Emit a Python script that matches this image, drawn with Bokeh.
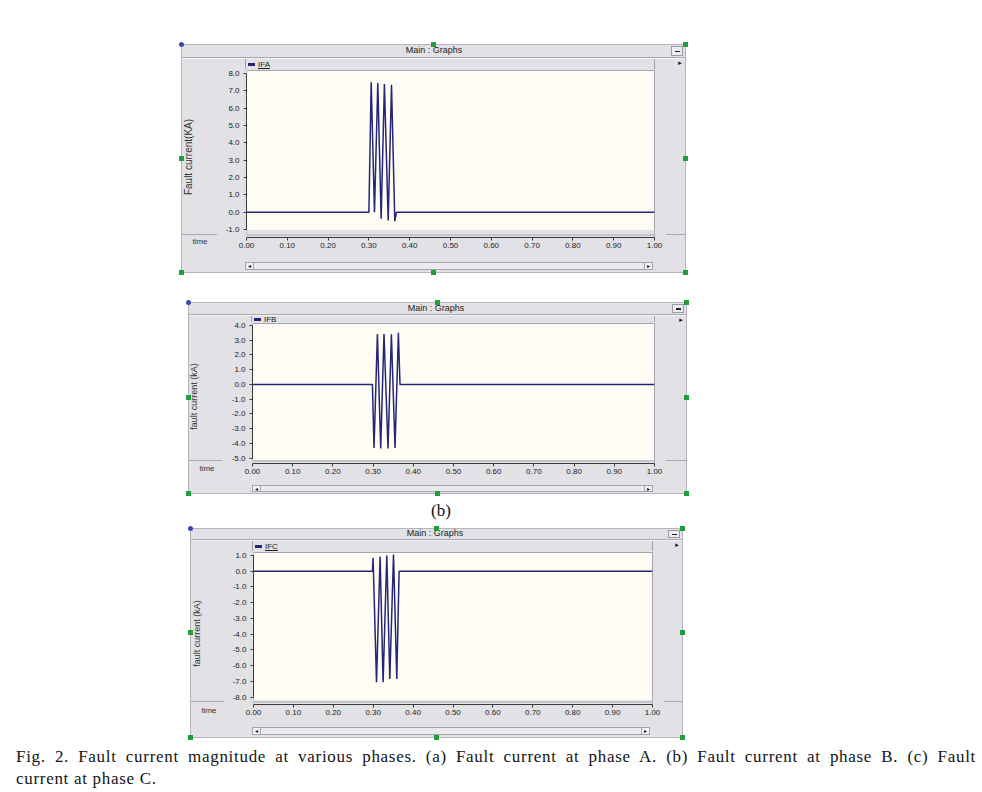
import math
from bokeh.plotting import figure
from bokeh.models import (Range1d, FixedTicker, NumeralTickFormatter, BoxAnnotation,
                          Spacer, Div)
from bokeh.layouts import column, row
from bokeh.embed import file_html
from bokeh.resources import INLINE

# ---------------- data ----------------
time_ticks = [0.0, 0.1, 0.2, 0.3, 0.4, 0.5, 0.6, 0.7, 0.8, 0.9, 1.0]
ya_ticks = [-1.0, 0.0, 1.0, 2.0, 3.0, 4.0, 5.0, 6.0, 7.0, 8.0]
yb_ticks = [-5.0, -4.0, -3.0, -2.0, -1.0, 0.0, 1.0, 2.0, 3.0, 4.0]
yc_ticks = [-8.0, -7.0, -6.0, -5.0, -4.0, -3.0, -2.0, -1.0, 0.0, 1.0]

# phase A fault current (kA)
t_a = [0.0, 0.300, 0.3056, 0.3137, 0.3218, 0.3300, 0.3380, 0.3473, 0.3554, 0.3635, 0.3676, 1.0]
i_a = [0.0, 0.0, 7.50, 0.00, 7.45, -0.38, 7.40, -0.48, 7.35, -0.52, 0.0, 0.0]
# phase B fault current (kA)
t_b = [0.0, 0.2983, 0.3023, 0.3107, 0.3189, 0.3271, 0.3371, 0.3455, 0.3545, 0.3629, 0.3669, 1.0]
i_b = [0.0, 0.0, -4.30, 3.43, -4.34, 3.43, -4.34, 3.40, -4.30, 3.50, 0.0, 0.0]
# phase C fault current (kA)
t_c = [0.0, 0.2982, 0.2997, 0.3083, 0.3173, 0.3248, 0.3341, 0.3416, 0.3509, 0.3591, 0.3649, 1.0]
i_c = [0.0, 0.0, 0.85, -7.05, 0.93, -7.05, 1.00, -6.84, 1.06, -6.84, 0.0, 0.0]

caption_line1 = ("Fig. 2. Fault current magnitude at various phases. (a) Fault current at phase A. "
                 "(b) Fault current at phase B. (c) Fault")
caption_line2 = "current at phase C."

# ---------------- styles ----------------
PANEL_GRAY = "#e1e1e6"
CREAM = "#fffdf3"
NAVY = "#25257a"
EDGE = "#a6a6ae"
PANEL_EDGE = "#b4b4bc"
SEP = "#a9a9b1"
TEXT = "#2a2a2a"
FONT = "Liberation Sans"
FONT_CSS = "'Liberation Sans', Arial, sans-serif"
SYM_CSS = "'DejaVu Sans', sans-serif"
GREEN = "#1f9e3c"
BLUE = "#3848b0"


def hrect(x, y, w, h, bg, extra=""):
    return (f'<div style="position:absolute;left:{x}px;top:{y}px;width:{w}px;height:{h}px;'
            f'background:{bg};box-sizing:border-box;{extra}"></div>')


def htext(cx, cy, s, size, W, color=TEXT, font=FONT_CSS, align="center", rotate=False,
          extra=""):
    left = cx - W / 2 if align == "center" else cx
    hh = size + 4
    style = (f"position:absolute;left:{left}px;top:{cy - hh / 2}px;width:{W}px;height:{hh}px;"
             f"line-height:{hh}px;text-align:{align};font-family:{font};font-size:{size}px;"
             f"color:{color};white-space:nowrap;{extra}")
    if rotate:
        style += "transform:rotate(-90deg);transform-origin:50% 50%;"
    return f'<div style="{style}">{s}</div>'


def hbox(w, h, inner, bg="white"):
    html = (f'<div style="position:relative;width:{w}px;height:{h}px;overflow:hidden;'
            f'background:{bg};">{inner}</div>')
    return Div(text=html, width=w, height=h, margin=(0, 0, 0, 0),
               styles={"background-color": bg})


def handle(X, Y, ox, oy, color=GREEN, round_=False):
    r = "border-radius:50%;" if round_ else ""
    return hrect(X - ox - 2.5, Y - oy - 2.5, 5, 5, color, r)


def make_panel(spec):
    PX0, PY0, PX1, PY1 = spec["panel"]
    FX0, FY0, FX1, FY1 = spec["frame"]
    OX0, OY0, OX1, OY1 = PX0 - 4, PY0 - 4, PX1 + 4, PY1 + 4
    XS = spec["xsplit"]
    RS = FX1 + 12
    FT = FY0 - 1
    FB = spec["fig_bottom"]
    dv = spec["divider"]
    mx, my = (PX0 + PX1) / 2, (PY0 + PY1) / 2

    # ---- top strip: title bar + legend bar ----
    ox, oy = OX0, OY0
    h = []
    h.append(hrect(PX0 - ox, PY0 - oy, PX1 - PX0 + 1, FT - PY0 + 2, PANEL_GRAY,
                   f"border:1px solid {PANEL_EDGE};border-bottom:none;"))
    h.append(hrect(PX0 + 1 - ox, dv - oy, PX1 - PX0 - 1, 1, SEP))
    h.append(hrect(PX0 + 1 - ox, dv + 1 - oy, PX1 - PX0 - 1, 1, "#f4f4f6"))
    h.append(htext(spec["title_cx"] - ox, (PY0 + dv) / 2 - oy, "Main : Graphs", 9, 90,
                   color="#222"))
    h.append(hrect(PX1 - 14 - ox, PY0 + 2 - oy, 12, dv - PY0 - 3, "#ececf0",
                   "border:1px solid #9a9aa2;"))
    h.append(hrect(PX1 - 10 - ox, (PY0 + dv) / 2 - oy, 5, 1.5, "#222"))
    h.append(htext(PX1 - 5 - ox, dv + 6 - oy, "\u25b8", 7, 8, color="#111", font=SYM_CSS))
    h.append(hrect(FX0 - 1 - ox, dv + 2 - oy, FX1 - FX0 + 2, FT - dv, PANEL_GRAY,
                   "border-left:1px solid #a0a0a8;border-right:1px solid #a0a0a8;"))
    lm = (dv + 2 + FY0) / 2
    h.append(hrect(FX0 + 2 - ox, lm - 1.5 - oy, 7, 3, NAVY))
    h.append(htext(FX0 + 12 - ox, lm - oy, spec["legend"], 8, 30, color="#222", align="left",
                   extra="text-decoration:underline;"))
    h.append(handle(mx, PY0, ox, oy))
    h.append(handle(PX1, PY0, ox, oy))
    h.append(handle(PX0, PY0, ox, oy, BLUE, True))
    top = hbox(OX1 - OX0, FT - OY0, "".join(h))

    # ---- left strip: y label, "time" ----
    ox, oy = OX0, FT
    h = []
    h.append(hrect(0, 0, PX0 - ox, FB - FT, "white"))
    h.append(hrect(PX0 - ox, 0, 1, FB - FT, PANEL_EDGE))
    h.append(hrect(PX0 + 1 - ox, FY1 - 3 - oy, XS - PX0, 1, SEP))
    lx, ly = spec["ylabel_pos"]
    h.append(htext(lx - ox, ly - oy, spec["ylabel"], spec["ylabel_size"], 100, color="#333",
                   rotate=True))
    tx, ty = spec["time_pos"]
    h.append(htext(tx - ox, ty - oy, "time", 8, 26, color="#333"))
    h.append(handle(PX0, my, ox, oy))
    left = hbox(XS - OX0, FB - FT, "".join(h), bg=PANEL_GRAY)

    # ---- right strip ----
    ox, oy = RS, FT
    h = []
    h.append(hrect(PX1 + 1 - ox, 0, OX1 - PX1, FB - FT, "white"))
    h.append(hrect(PX1 - ox, 0, 1, FB - FT, PANEL_EDGE))
    h.append(hrect(0, FY1 - 3 - oy, PX1 - RS, 1, SEP))
    h.append(handle(PX1, my, ox, oy))
    right = hbox(OX1 - RS, FB - FT, "".join(h), bg=PANEL_GRAY)

    # ---- bottom strip: scroll bar ----
    ox, oy = OX0, FB
    h = []
    h.append(hrect(PX0 - ox, 0, PX1 - PX0 + 1, PY1 - FB + 1, PANEL_GRAY,
                   f"border:1px solid {PANEL_EDGE};border-top:none;"))
    s0, s1, sy0, sy1 = spec["scroll"]
    h.append(hrect(s0 - ox, sy0 - oy, s1 - s0, sy1 - sy0, "#ebebef", "border:1px solid #a4a4ac;"))
    h.append(hrect(s0 - ox, sy0 - oy, 9, sy1 - sy0, "#f3f3f5", "border:1px solid #a4a4ac;"))
    h.append(hrect(s1 - 9 - ox, sy0 - oy, 9, sy1 - sy0, "#f3f3f5", "border:1px solid #a4a4ac;"))
    h.append(htext(s0 + 4.5 - ox, (sy0 + sy1) / 2 - oy, "\u25c2", 6, 8, color="#111",
                   font=SYM_CSS))
    h.append(htext(s1 - 4.5 - ox, (sy0 + sy1) / 2 - oy, "\u25b8", 6, 8, color="#111",
                   font=SYM_CSS))
    h.append(handle(PX0, PY1, ox, oy))
    h.append(handle(mx, PY1, ox, oy))
    h.append(handle(PX1, PY1, ox, oy))
    bottom = hbox(OX1 - OX0, OY1 - FB, "".join(h))

    # ---- the plot itself ----
    p = figure(width=RS - XS, height=FB - FT, output_backend="svg",
               toolbar_location=None, tools="", title=None,
               x_range=Range1d(0, 1), y_range=Range1d(spec["ylo"], spec["yhi"]),
               min_border_left=FX0 - XS, min_border_right=RS - FX1,
               min_border_top=FY0 - FT, min_border_bottom=FB - FY1,
               styles={"background-color": PANEL_GRAY})
    p.border_fill_color = PANEL_GRAY
    p.background_fill_color = CREAM
    p.outline_line_color = EDGE
    p.grid.visible = False
    p.add_layout(BoxAnnotation(top=spec["band"], fill_color=PANEL_GRAY, fill_alpha=1.0,
                               line_color=None, level="underlay"))
    p.add_layout(BoxAnnotation(bottom=2, top=3, bottom_units="screen", top_units="screen",
                               fill_color=SEP, fill_alpha=1.0, line_color=None,
                               level="underlay"))
    p.line(x=spec["t"], y=spec["i"], line_color=NAVY, line_width=1.5)

    xa = p.xaxis[0]
    xa.ticker = FixedTicker(ticks=time_ticks, minor_ticks=[])
    xa.formatter = NumeralTickFormatter(format="0.00")
    xa.bounds = (0, 1)
    ya = p.yaxis[0]
    ya.ticker = FixedTicker(ticks=spec["yticks"], minor_ticks=[])
    ya.formatter = NumeralTickFormatter(format="0.0")
    ya.bounds = (min(spec["yticks"]), max(spec["yticks"]))
    for ax in (xa, ya):
        ax.axis_line_color = "#3a3a3a"
        ax.major_tick_line_color = "#3a3a3a"
        ax.major_tick_out = 3
        ax.major_tick_in = 0
        ax.minor_tick_out = 0
        ax.minor_tick_in = 0
        ax.major_label_text_font = FONT
        ax.major_label_text_font_size = "8px"
        ax.major_label_text_color = "#222222"
        if "background_fill_color" in ax.properties():
            ax.background_fill_color = PANEL_GRAY
    xa.major_label_standoff = 2
    ya.major_label_standoff = 4

    return column(top, row(left, p, right), bottom)


spec_a = dict(panel=(181, 44, 685, 272), frame=(246, 70, 654, 237), xsplit=217, fig_bottom=256,
              ylo=-1.4615, yhi=8.173, band=-1.03, divider=57, title_cx=434,
              legend="IFA", time_pos=(200, 242),
              ylabel="Fault current(KA)", ylabel_size=10, ylabel_pos=(189, 157),
              scroll=(245, 653, 262, 270), t=t_a, i=i_a, yticks=ya_ticks)
spec_b = dict(panel=(188, 302, 686, 493), frame=(252, 323, 654, 463), xsplit=222, fig_bottom=481,
              ylo=-5.359, yhi=4.136, band=-5.12, divider=314, title_cx=436,
              legend="IFB", time_pos=(207, 469),
              ylabel="fault current (kA)", ylabel_size=9, ylabel_pos=(194, 396),
              scroll=(252, 653, 485, 492), t=t_b, i=i_b, yticks=yb_ticks)
spec_c = dict(panel=(190, 528, 682, 737), frame=(253, 552, 652, 704), xsplit=224, fig_bottom=723,
              ylo=-8.464, yhi=1.19, band=-8.2, divider=539, title_cx=435,
              legend="IFC", time_pos=(209, 711),
              ylabel="fault current (kA)", ylabel_size=9, ylabel_pos=(197, 633),
              scroll=(252, 650, 727, 735), t=t_c, i=i_c, yticks=yc_ticks)

panel_a = make_panel(spec_a)
panel_b = make_panel(spec_b)
panel_c = make_panel(spec_c)

label_b = Div(text=('<div style="width:60px;height:27px;line-height:27px;text-align:center;'
                    'font-family:\'Liberation Serif\',serif;font-size:17px;color:#111;">(b)</div>'),
              width=60, height=27, margin=(0, 0, 0, 0))

caption = Div(text=('<div style="width:960px;height:50px;overflow:hidden;box-sizing:border-box;'
                    'padding-top:5px;font-family:\'Liberation Serif\',serif;font-size:17px;'
                    'line-height:22px;color:#141414;letter-spacing:0.7px;">'
                    '<div style="text-align:justify;text-align-last:justify;white-space:nowrap;">'
                    + caption_line1 + '</div><div>' + caption_line2 + '</div></div>'),
              width=960, height=50, margin=(0, 0, 0, 0))


def sp(w, h):
    return Spacer(width=w, height=h, margin=(0, 0, 0, 0))


layout = column(
    sp(10, 40),
    row(sp(177, 1), panel_a),
    sp(10, 22),
    row(sp(184, 1), panel_b),
    row(sp(411, 1), label_b),
    row(sp(186, 1), panel_c),
    row(sp(16, 1), caption),
)

open("out.html", "w").write(file_html(layout, INLINE))
